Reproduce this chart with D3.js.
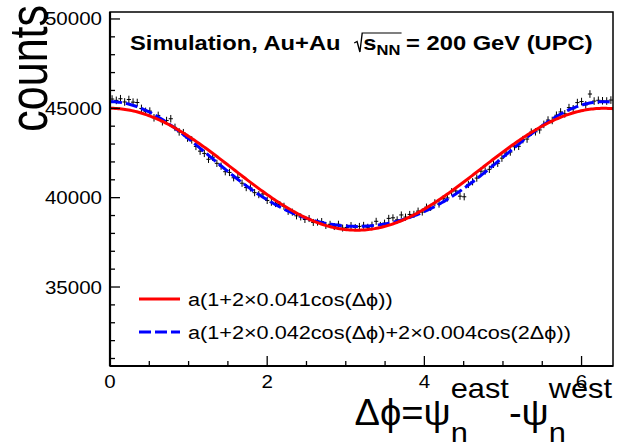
<!DOCTYPE html>
<html>
<head>
<meta charset="utf-8">
<script src="https://cdn.jsdelivr.net/npm/d3@7"></script>
<style>
body { margin: 0; background: #fff; }
svg { display: block; }
text { font-family: "Liberation Sans", Arial, Helvetica, sans-serif; fill: #000; }
</style>
</head>
<body>
<div id="chart"></div>
<script>
// histogram: 120 bins over the axis range
var binRange = [0, 6.4];
var binCounts = [
  45518, 45444, 45536, 45355, 45492, 45346, 45325, 44994, 44829, 44844,
  44469, 44603, 44248, 44315, 44417, 43933, 43678, 43637, 43332, 43231,
  42868, 42603, 42476, 42148, 42260, 41922, 41766, 41453, 41412, 41113,
  41138, 40809, 40564, 40545, 40280, 40171, 40209, 39844, 39745, 39671,
  39615, 39517, 39235, 39191, 38983, 38922, 38780, 38833, 38613, 38630,
  38664, 38444, 38510, 38384, 38513, 38298, 38330, 38438, 38332, 38392,
  38450, 38343, 38463, 38677, 38449, 38576, 38841, 38872, 38759, 39033,
  38913, 39061, 39066, 39248, 39195, 39471, 39454, 39714, 39641, 39944,
  39984, 40331, 40374, 40083, 40050, 40740, 40890, 41096, 41481, 41491,
  41585, 41868, 41924, 42211, 42492, 42553, 42848, 42873, 43247, 43279,
  43667, 43686, 43790, 44100, 44343, 44320, 44613, 44796, 44691, 45038,
  44973, 45320, 45378, 45192, 45800, 45405, 45449, 45420, 45407, 45462
];

// fit results, from the legend
var fitRed = { a: 41590, v1: 0.041 };
var fitBlue = { a: 41550, v1: 0.042, v2: 0.004 };

var legendLabels = [
  "a(1+2\u00d70.041cos(\u0394\u03d5))",
  "a(1+2\u00d70.042cos(\u0394\u03d5)+2\u00d70.004cos(2\u0394\u03d5))"
];
var legendColors = ["#ff0000", "#0000ff"];

var yMajorTicks = [35000, 40000, 45000, 50000];
var xMajorTicks = [0, 2, 4, 6];

var W = 617, H = 445;
var fr = { l: 110, t: 12, r: 613, b: 366 };
var SX = 1.14; // the original canvas is a little stretched sideways

var x = d3.scaleLinear().domain(binRange).range([fr.l, fr.r]);
var y = d3.scaleLinear().domain([30580, 50390]).range([fr.b, fr.t]);

var svg = d3.select('#chart').append('svg')
    .attr('width', W).attr('height', H);

// stretched text piece
function stext(g, tx, ty, str, size, anchor, weight) {
  return g.append('g')
      .attr('transform', 'translate(' + tx + ',' + ty + ') scale(' + SX + ',1)')
    .append('text')
      .attr('text-anchor', anchor || 'start')
      .attr('font-size', size)
      .attr('font-weight', weight || 'normal')
      .text(str);
}

// ---- data points (crosses)
var nb = binCounts.length;
var bw = (binRange[1] - binRange[0]) / nb;
var pts = svg.append('g').attr('class', 'points')
    .attr('stroke', '#000').attr('stroke-width', 1);
binCounts.forEach(function(v, i) {
  var c = binRange[0] + (i + 0.5) * bw, e = Math.sqrt(v);
  pts.append('line')
      .attr('x1', x(c)).attr('x2', x(c))
      .attr('y1', y(v - e)).attr('y2', y(v + e));
  pts.append('line')
      .attr('x1', x(c - bw / 2)).attr('x2', x(c + bw / 2))
      .attr('y1', y(v)).attr('y2', y(v));
});

// ---- fit curves
var grid = d3.range(0, 301).map(function(k) { return binRange[0] + k * (binRange[1] - binRange[0]) / 300; });
function redF(p) { return fitRed.a * (1 + 2 * fitRed.v1 * Math.cos(p)); }
function blueF(p) { return fitBlue.a * (1 + 2 * fitBlue.v1 * Math.cos(p) + 2 * fitBlue.v2 * Math.cos(2 * p)); }
var line = d3.line().x(function(d) { return x(d[0]); }).y(function(d) { return y(d[1]); });

svg.append('path')
    .datum(grid.map(function(p) { return [p, blueF(p)]; }))
    .attr('d', line).attr('fill', 'none')
    .attr('stroke', legendColors[1]).attr('stroke-width', 3)
    .attr('stroke-dasharray', '12,4');
svg.append('path')
    .datum(grid.map(function(p) { return [p, redF(p)]; }))
    .attr('d', line).attr('fill', 'none')
    .attr('stroke', legendColors[0]).attr('stroke-width', 3);

// ---- frame + axes
svg.append('rect')
    .attr('x', fr.l).attr('y', fr.t)
    .attr('width', fr.r - fr.l).attr('height', fr.b - fr.t)
    .attr('fill', 'none').attr('stroke', '#000').attr('stroke-width', 1.5);

var ax = svg.append('g').attr('stroke', '#000').attr('stroke-width', 1.3);
d3.range(31000, 50001, 1000).forEach(function(v) {
  var major = yMajorTicks.indexOf(v) >= 0;
  ax.append('line').attr('x1', fr.l).attr('x2', fr.l + (major ? 10 : 5))
      .attr('y1', y(v)).attr('y2', y(v));
});
d3.range(0, 6.01, 0.5).forEach(function(v) {
  var major = xMajorTicks.indexOf(v) >= 0;
  ax.append('line').attr('y1', fr.b).attr('y2', fr.b - (major ? 10 : 5))
      .attr('x1', x(v)).attr('x2', x(v));
});
svg.append('line').attr('x1', fr.l).attr('x2', fr.l).attr('y1', fr.t).attr('y2', fr.b)
    .attr('stroke', '#000').attr('stroke-width', 2.2);
svg.append('line').attr('x1', fr.l).attr('x2', fr.r).attr('y1', fr.b).attr('y2', fr.b)
    .attr('stroke', '#000').attr('stroke-width', 2.2);

yMajorTicks.forEach(function(v) {
  stext(svg, 102, y(v) + 6.5, d3.format('d')(v), 18, 'end');
});
xMajorTicks.forEach(function(v) {
  stext(svg, x(v), 388, String(v), 18, 'middle');
});

// y title
svg.append('g')
    .attr('transform', 'translate(47,5) rotate(-90) scale(1,1.25)')
  .append('text')
    .attr('text-anchor', 'end')
    .attr('font-size', 43)
    .text('counts');

// x title: delta phi = psi_n^east - psi_n^west
var xt = svg.append('g');
var cur = 0;
function piece(str, size, dy, sx) {
  var t = xt.append('g').attr('transform', 'translate(' + cur + ',' + dy + ') scale(' + sx + ',1)')
    .append('text').attr('font-size', size).text(str);
  return t.node().getComputedTextLength() * sx;
}
cur += piece('\u0394\u03d5=\u03c8', 37, 0, 1.03);
var wE = piece('east', 27, -27, SX); piece('n', 27, 17, SX);
cur += wE;
cur += piece('-\u03c8', 37, 0, 1.03);
var wW = piece('west', 27, -27, SX); piece('n', 27, 17, SX);
cur += wW;
xt.attr('transform', 'translate(' + (612 - cur) + ',425)');

// title with sqrt(s_NN)
var tg = svg.append('g');
var tIn = tg.append('g').attr('font-weight', 'bold');
var fs = 20.8, tc = 0;
function tpiece(str, size, dy) {
  var t = tIn.append('text').attr('x', tc).attr('y', dy).attr('font-size', size).attr('font-weight', 'bold').text(str);
  return t.node().getComputedTextLength();
}
tc += tpiece('Simulation, Au+Au', fs, 0);
tc += 12;
var r0 = tc;
tc += 8;
tc += tpiece('s', fs, 0);
tc += tpiece('NN', 14.5, 5);
tIn.append('path')
    .attr('d', 'M' + r0 + ',-7 L' + (r0 + 2.5) + ',-8.5 L' + (r0 + 5) + ',2 L' + (r0 + 7) + ',-17 L' + (tc + 1) + ',-17')
    .attr('fill', 'none').attr('stroke', '#000').attr('stroke-width', 1.2);
tc += 5;
tc += tpiece('= 200 GeV (UPC)', fs, 0);
tg.attr('transform', 'translate(130,50) scale(' + SX + ',1)');

// legend
var lg = svg.append('g');
legendLabels.forEach(function(lab, i) {
  var ly = 299 + i * 33;
  lg.append('line').attr('x1', 139).attr('x2', 180).attr('y1', ly).attr('y2', ly)
      .attr('stroke', legendColors[i]).attr('stroke-width', 3)
      .attr('stroke-dasharray', i === 1 ? '12,4' : null);
  stext(lg, 188, ly + 7, lab, 19, 'start');
});
</script>
</body>
</html>
